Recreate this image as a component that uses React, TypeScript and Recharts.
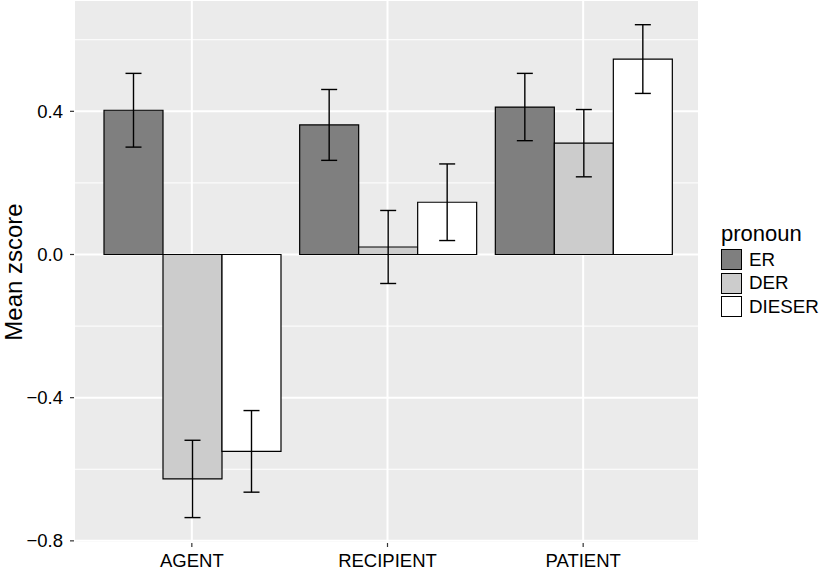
import React from "react"
import { BarChart, Bar, XAxis, YAxis, CartesianGrid, ErrorBar } from "recharts"

const categories = ["AGENT", "RECIPIENT", "PATIENT"]
const erMeans = [0.403, 0.362, 0.412]
const derMeans = [-0.627, 0.021, 0.311]
const dieserMeans = [-0.55, 0.146, 0.546]
const erErr = [0.103, 0.099, 0.094]
const derErr = [0.108, 0.102, 0.094]
const dieserErr = [0.114, 0.107, 0.096]
const yTicks = [-0.8, -0.4, 0, 0.4]
const yMinor = [-0.6, -0.2, 0.2, 0.6]

const series = [
  { key: "er", label: "ER", fill: "#7F7F7F" },
  { key: "der", label: "DER", fill: "#CCCCCC" },
  { key: "dieser", label: "DIESER", fill: "#FFFFFF" },
]

const data = categories.map((role, i) => ({
  role,
  er: erMeans[i],
  der: derMeans[i],
  dieser: dieserMeans[i],
  erErr: erErr[i],
  derErr: derErr[i],
  dieserErr: dieserErr[i],
}))

const font = "'Liberation Sans', Arial, sans-serif"

const fmt = (v: number) => v.toFixed(1).replace("-", "\u2212")

export default function App() {
  return (
    <div style={{ position: "absolute", left: 0, top: 0, width: 822, height: 574, background: "#fff", fontFamily: font, overflow: "hidden" }}>
      <BarChart
        width={822}
        height={574}
        data={data}
        margin={{ top: 0, right: 123, bottom: 0, left: 0 }}
        barGap={0}
        barCategoryGap={10}
      >
        <CartesianGrid fill="#EBEBEB" stroke="#FFFFFF" strokeWidth={2} />
        <CartesianGrid vertical={false} horizontalValues={yMinor} stroke="#FFFFFF" strokeWidth={1} />
        <XAxis
          dataKey="role"
          height={31}
          padding={{ left: 20, right: 18 }}
          axisLine={false}
          tickSize={4}
          tickMargin={7}
          tickLine={{ stroke: "#333333", strokeWidth: 1.2 }}
          tick={{ fill: "#000", fontSize: 18.5, fontFamily: font }}
        />
        <YAxis
          type="number"
          width={74}
          domain={[-0.806, 0.711]}
          allowDataOverflow
          ticks={yTicks}
          tickFormatter={fmt}
          axisLine={false}
          tickSize={4}
          tickMargin={7}
          tickLine={{ stroke: "#333333", strokeWidth: 1.2 }}
          tick={{ fill: "#000", fontSize: 18.5, fontFamily: font }}
        />
        {series.map((s) => (
          <Bar key={s.key} dataKey={s.key} fill={s.fill} stroke="#000" strokeWidth={1.2} isAnimationActive={false}>
            <ErrorBar dataKey={s.key + "Err"} direction="y" width={8} stroke="#000" strokeWidth={1.4} />
          </Bar>
        ))}
      </BarChart>

      <div
        style={{
          position: "absolute",
          left: 14,
          top: 272,
          transform: "translate(-50%, -50%) rotate(-90deg)",
          fontSize: 24,
          whiteSpace: "nowrap",
          color: "#000",
        }}
      >
        Mean zscore
      </div>

      <div style={{ position: "absolute", left: 721, top: 222 }}>
        <div style={{ fontSize: 22, lineHeight: "24px", color: "#000", marginBottom: 2 }}>pronoun</div>
        {series.map((s) => (
          <div key={s.key} style={{ display: "flex", alignItems: "center", height: 23.5 }}>
            <div style={{ width: 19, height: 19, background: s.fill, border: "1.5px solid #000" }} />
            <span style={{ marginLeft: 7, fontSize: 18.8, color: "#000" }}>{s.label}</span>
          </div>
        ))}
      </div>
    </div>
  )
}
